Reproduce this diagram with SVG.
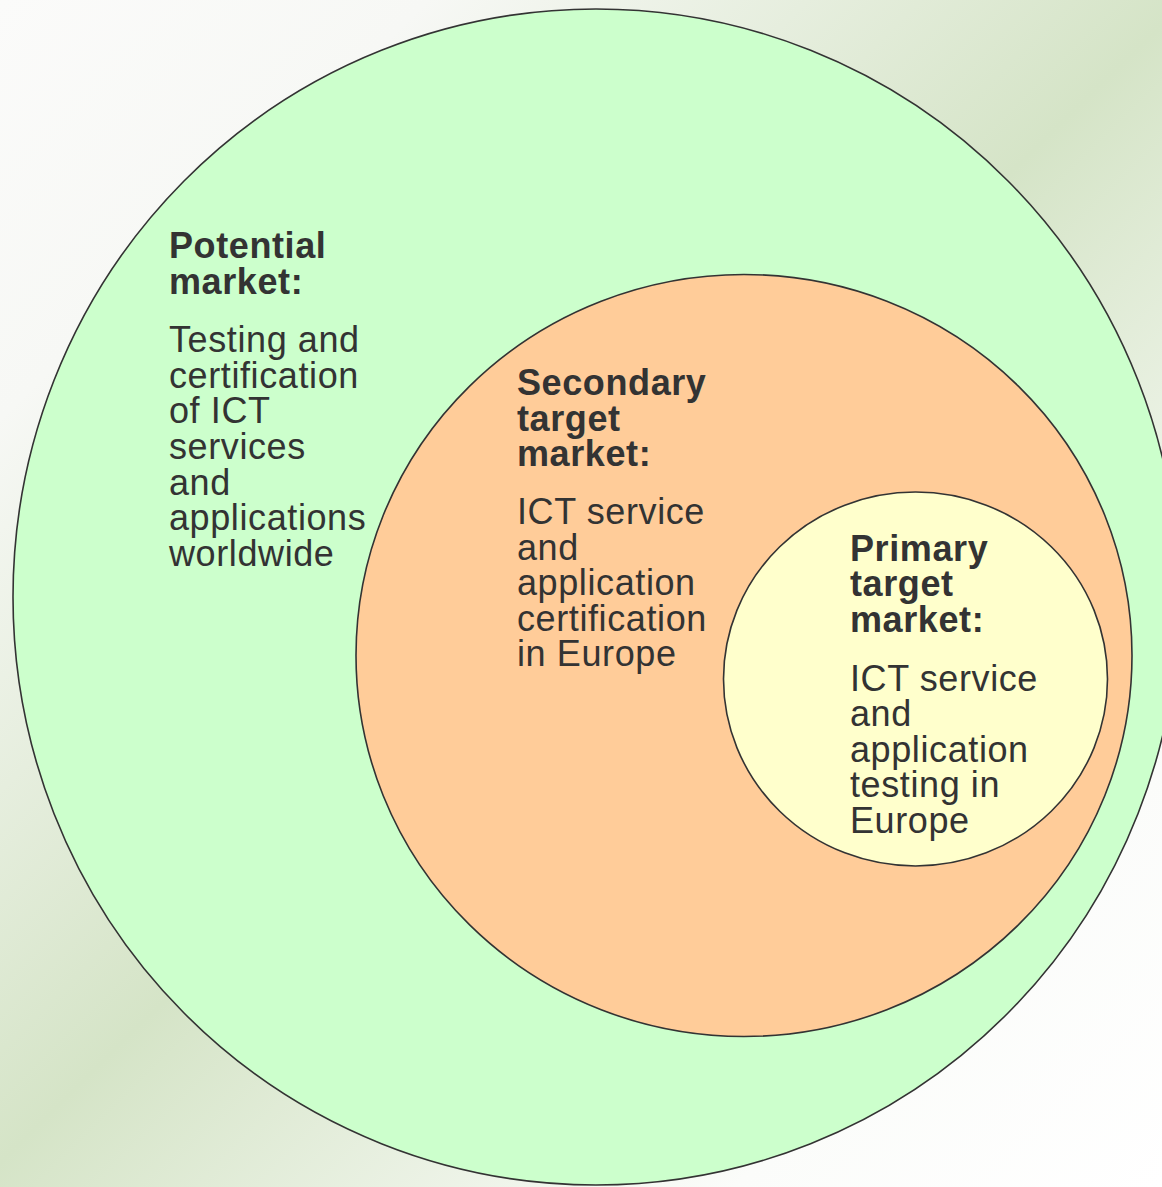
<svg xmlns="http://www.w3.org/2000/svg" width="1162" height="1187" viewBox="0 0 1162 1187">
  <defs>
    <linearGradient id="bg" gradientUnits="userSpaceOnUse" x1="0" y1="0" x2="1162" y2="1187">
      <stop offset="0" stop-color="#fbfbfa"/>
      <stop offset="0.18" stop-color="#f7f8f5"/>
      <stop offset="0.5" stop-color="#d5e4c7"/>
      <stop offset="0.82" stop-color="#fbfcfa"/>
      <stop offset="1" stop-color="#ffffff"/>
    </linearGradient>
    <style>
      .ring { stroke: #333333; stroke-width: 1.6; }
      .t { font-family: "Liberation Sans", Arial, sans-serif; font-size: 36px; fill: #333333; letter-spacing: 0.6px; }
      .b { font-weight: bold; }
    </style>
  </defs>
  <rect x="0" y="0" width="1162" height="1187" fill="url(#bg)"/>

  <g id="potential-market">
    <ellipse class="ring" cx="596" cy="597" rx="583" ry="588" fill="#ccffcc"/>
    <text class="t b" x="169">
      <tspan x="169" y="258">Potential</tspan>
      <tspan x="169" y="294">market:</tspan>
    </text>
    <text class="t" x="169">
      <tspan x="169" y="352">Testing and</tspan>
      <tspan x="169" y="388">certification</tspan>
      <tspan x="169" y="423">of ICT</tspan>
      <tspan x="169" y="459">services</tspan>
      <tspan x="169" y="495">and</tspan>
      <tspan x="169" y="530">applications</tspan>
      <tspan x="169" y="566">worldwide</tspan>
    </text>
  </g>

  <g id="secondary-target-market">
    <ellipse class="ring" cx="744" cy="655.5" rx="388" ry="381" fill="#ffcc99"/>
    <text class="t b" x="517">
      <tspan x="517" y="395">Secondary</tspan>
      <tspan x="517" y="431">target</tspan>
      <tspan x="517" y="466">market:</tspan>
    </text>
    <text class="t" x="517">
      <tspan x="517" y="524">ICT service</tspan>
      <tspan x="517" y="560">and</tspan>
      <tspan x="517" y="595">application</tspan>
      <tspan x="517" y="631">certification</tspan>
      <tspan x="517" y="666">in Europe</tspan>
    </text>
  </g>

  <g id="primary-target-market">
    <ellipse class="ring" cx="915.5" cy="679" rx="192" ry="187" fill="#ffffcc"/>
    <text class="t b" x="850">
      <tspan x="850" y="561">Primary</tspan>
      <tspan x="850" y="596">target</tspan>
      <tspan x="850" y="632">market:</tspan>
    </text>
    <text class="t" x="850">
      <tspan x="850" y="691">ICT service</tspan>
      <tspan x="850" y="726">and</tspan>
      <tspan x="850" y="762">application</tspan>
      <tspan x="850" y="797">testing in</tspan>
      <tspan x="850" y="833">Europe</tspan>
    </text>
  </g>

  <g id="connectors"/>
</svg>
